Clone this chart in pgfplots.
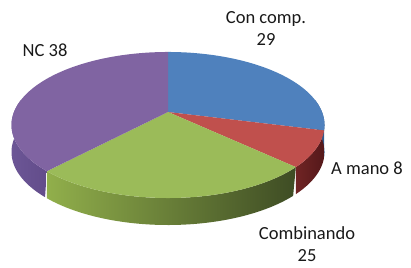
\documentclass[border=0pt]{standalone}
\usepackage{fontspec}
\setmainfont{Carlito}
\usepackage{pgfplots}
\pgfplotsset{compat=1.18}
\definecolor{cblue}{RGB}{79,129,189}
\definecolor{cred}{RGB}{192,80,77}
\definecolor{cgreen}{RGB}{155,187,89}
\definecolor{cpurple}{RGB}{128,100,162}
\definecolor{sblue}{RGB}{52,90,138}
\definecolor{sredA}{RGB}{112,36,36}
\definecolor{sredB}{RGB}{84,24,26}
\definecolor{sgreenA}{RGB}{145,175,75}
\definecolor{sgreenB}{RGB}{62,76,36}
\definecolor{spurpleA}{RGB}{108,86,150}
\definecolor{spurpleB}{RGB}{98,76,138}
\definecolor{txt}{RGB}{25,25,25}
\begin{document}
\begin{tikzpicture}
% data (percent)
\def\vConcomp{29}
\def\vAmano{8}
\def\vCombinando{25}
\def\vNC{38}
\pgfmathsetmacro\aA{90}
\pgfmathsetmacro\aB{\aA-\vConcomp*3.6}
\pgfmathsetmacro\aC{\aB-\vAmano*3.6}
\pgfmathsetmacro\aD{\aC-\vCombinando*3.6}
\pgfmathsetmacro\aE{\aD-\vNC*3.6}
\begin{axis}[scale only axis, width=411bp, height=268bp,
  xmin=0, xmax=411, ymin=0, ymax=268, y dir=reverse,
  hide axis, clip=false,
  declare function={
    px(\t)=168+154*cos(\t)/(1+0.178*sin(\t));
    py(\t)=112-70.7*sin(\t)/(1+0.178*sin(\t));
    sa(\s,\a,\b)=(\s<=1.0001)*(\a+\s*(\b-\a))+(\s>1.0001)*(\b-(\s-1)*(\b-\a));
    so(\s)=(\s>1.0001)*27;
  }]
\path (axis cs:0,0) rectangle (axis cs:411,268);
% side walls
\addplot[draw=none, left color=spurpleA, right color=spurpleB, domain=0:2, samples=121]
  ({px(sa(x,-190,\aD))},{py(sa(x,-190,\aD))+so(x)}) -- cycle;
\addplot[draw=none, left color=sgreenA, right color=sgreenB, domain=0:2, samples=121]
  ({px(sa(x,\aD,\aC))},{py(sa(x,\aD,\aC))+so(x)}) -- cycle;
\addplot[draw=none, left color=sredA, right color=sredB, domain=0:2, samples=121]
  ({px(sa(x,\aC,\aB))},{py(sa(x,\aC,\aB))+so(x)}) -- cycle;
\addplot[draw=none, fill=sblue, domain=0:2, samples=121]
  ({px(sa(x,\aB,10))},{py(sa(x,\aB,10))+so(x)}) -- cycle;
% top faces
\addplot[draw=none, fill=cblue, domain=\aB:\aA, samples=80]
  ({px(x)},{py(x)}) -- (axis cs:168,112) -- cycle;
\addplot[draw=none, fill=cred, domain=\aC:\aB, samples=40]
  ({px(x)},{py(x)}) -- (axis cs:168,112) -- cycle;
\addplot[draw=none, fill=cgreen, domain=\aD:\aC, samples=80]
  ({px(x)},{py(x)}) -- (axis cs:168,112) -- cycle;
\addplot[draw=none, fill=cpurple, domain=\aE:\aD, samples=100]
  ({px(x)},{py(x)}) -- (axis cs:168,112) -- cycle;
% labels
\node[txt, font=\fontsize{18.5bp}{22bp}\selectfont, align=center] at (axis cs:266,28) {Con comp.\\29};
\node[txt, font=\fontsize{18.5bp}{22bp}\selectfont] at (axis cs:45,50) {NC 38};
\node[txt, font=\fontsize{18.5bp}{22bp}\selectfont] at (axis cs:367,168) {A mano 8};
\node[txt, font=\fontsize{18.5bp}{22bp}\selectfont, align=center] at (axis cs:307,244) {Combinando\\25};
\end{axis}
\end{tikzpicture}
\end{document}
